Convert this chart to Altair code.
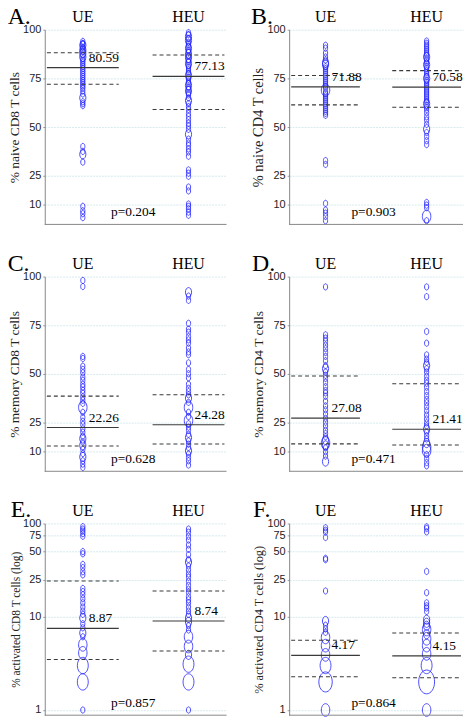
import altair as alt
import pandas as pd

GROUPS = ["UE", "HEU"]

# ---------------- data ----------------
# Panel A: % naive CD8 T cells
a_ue = [94, 93, 92.5, 92, 91, 90, 89.5, 89, 88, 87, 86, 85, 84, 83, 82, 81, 80, 79, 78, 77, 76, 75, 74, 73, 72,
        71, 70, 68.5, 67, 65, 63, 62, 61, 40, 37.5, 36, 32, 9.3, 7, 5.5, 3.5]
a_ue_n = [1, 1, 1, 2, 1, 1, 2, 1, 2, 1, 2, 1, 1, 1, 1, 1, 1, 1, 1, 1, 1, 1, 1, 1, 1,
          1, 1, 1, 1, 2, 1, 1, 1, 1, 1, 2, 1, 1, 1, 1, 1]
a_heu = [98.5, 97.5, 96.5, 95.5, 94.5, 93.5, 92.5, 91.5, 90.5, 89.5, 88.5, 87.5, 86.5, 85.5, 84.5, 83.5, 82.5,
         81.5, 80.5, 79.5, 78.5, 77.5, 76.5, 75.5, 74.5, 73.5, 72.5, 71.5, 70.5, 69.5, 68.5, 67.5, 66.5, 65,
         63.5, 62, 60.5, 59, 57, 55.5, 53.8, 52, 50.5, 48.8, 46.3, 43.8, 41.8, 40.5, 38.8, 37.2, 35, 28, 26.3,
         24.7, 19.2, 17.2, 10.5, 9.3, 8, 6.3, 4.7]
a_heu_n = [1, 1, 2, 1, 2, 1, 1, 1, 2, 1, 1, 2, 1, 2, 1, 1, 2,
           1, 1, 1, 1, 1, 2, 1, 1, 1, 1, 2, 1, 1, 2, 1, 1, 1,
           2, 1, 1, 1, 1, 1, 1, 1, 1, 1, 2, 1, 1, 1, 1, 1, 1, 1, 1,
           1, 1, 1, 1, 1, 1, 1, 1]
a_med = [80.5, 76.0]
a_lbl = ["80.59", "77.13"]
a_q1 = [72.0, 59.0]
a_q3 = [88.2, 87.0]

# Panel B: % naive CD4 T cells
b_ue = [92, 90.5, 88, 86, 84.5, 83, 82, 81, 80, 79, 78, 77, 76, 75, 74, 73, 72, 71, 70, 69, 68, 67, 66, 65, 64,
        63, 62, 61, 60, 59, 58, 57, 56, 32.8, 30.8, 10.8, 7.4, 5.8, 4.1, 1.9]
b_ue_n = [1, 1, 1, 1, 1, 2, 2, 1, 1, 1, 1, 1, 1, 1, 1, 1, 1, 1, 1, 3, 1, 1, 1, 1, 1,
          1, 1, 1, 1, 1, 1, 1, 1, 1, 1, 1, 1, 1, 1, 1]
b_heu = [94.2, 93, 92, 91, 90, 89, 88, 87, 86, 85, 84, 83, 82, 81, 80, 79, 78, 77, 76, 75, 74, 73, 72, 71, 70,
         69, 68, 67, 66, 65, 64, 63, 62, 61, 60, 59, 57.4, 55.3, 53.6, 51.4, 48.9, 47.2, 45.2, 43, 41, 11.3,
         9.9, 8.6, 4.1, 1.9]
b_heu_n = [1, 1, 1, 1, 1, 1, 1, 1, 2, 1, 1, 1, 2, 1, 1, 1, 1, 1, 1, 2, 1, 1, 1, 1, 1,
           1, 1, 1, 1, 1, 1, 1, 2, 1, 1, 1, 1, 1, 1, 1, 2, 1, 1, 1, 1, 1,
           1, 1, 3, 1]
b_med = [70.6, 70.5]
b_lbl = ["71.88", "70.58"]
b_q1 = [61.4, 60.2]
b_q3 = [76.5, 79.0]

# Panel C: % memory CD8 T cells
c_ue = [98, 94.9, 59, 57.9, 54, 52.3, 50.6, 48.4, 46.7, 44.7, 43.3, 41.6, 40.1, 38.2, 36.5, 34.9, 32.8, 30.3,
        27.7, 25.7, 24, 21.8, 20.1, 18.1, 16.8, 15.1, 13.4, 11.3, 9.1, 7.4, 5.4, 3.7, 2]
c_ue_n = [1, 1, 1, 1, 1, 1, 1, 1, 1, 1, 1, 1, 1, 1, 1, 1, 3, 1,
          1, 1, 1, 1, 1, 1, 2, 1, 2, 1, 1, 2, 1, 1, 1]
c_heu = [92, 90, 87.8, 76, 73, 71.4, 69.2, 67.5, 65.8, 63.3, 61.3, 59.9, 55.7, 52.3, 50.1, 48, 44.7, 42.6, 40.9,
         39.3, 37.6, 35.4, 32.8, 30.3, 28.1, 26, 24.4, 22.7, 21, 19, 17.3, 15.6, 13.9, 12.2, 10.5, 8.8, 7.1,
         5.4, 3.2]
c_heu_n = [2, 1, 1, 1, 1, 1, 1, 1, 1, 1, 1, 1, 1, 1, 1, 1, 1, 1, 1,
           1, 2, 1, 3, 1, 1, 3, 1, 1, 1, 1, 2, 1, 1, 1, 2, 1, 1,
           1, 1]
c_med = [22.5, 23.9]
c_lbl = ["22.26", "24.28"]
c_q1 = [13.0, 14.0]
c_q3 = [38.6, 39.3]

# Panel D: % memory CD4 T cells
d_ue = [94.7, 70.1, 68.4, 66.8, 64.8, 63, 61, 59, 56.8, 54.3, 52.7, 51, 49.3, 47.7, 45.7, 43.5, 41.5, 40.2,
        38.5, 36, 33.6, 31.6, 29.4, 27.2, 25.2, 23.3, 21.1, 19.4, 17.8, 16.1, 14.5, 13.3, 12, 10, 7.8, 5]
d_ue_n = [1, 1, 1, 1, 1, 1, 1, 1, 1, 1, 2, 1, 1, 1, 1, 1, 1, 1,
          1, 1, 1, 1, 1, 1, 1, 1, 1, 1, 1, 2, 3, 2, 1, 1, 1, 2]
d_heu = [94.7, 89.7, 71.8, 65.8, 59.8, 57.6, 56, 54.3, 52.7, 51, 48.8, 46.8, 45.2, 43.2, 41, 38.9, 36.9, 35.2,
         33.2, 31.1, 28.9, 26.9, 24.9, 23.3, 21.6, 20, 18.3, 16.6, 14.5, 12.5, 10.6, 8.6, 6.6, 4.5, 2.8]
d_heu_n = [1, 1, 1, 1, 1, 1, 1, 2, 1, 1, 1, 1, 1, 1, 1, 1, 1, 1,
           1, 1, 1, 1, 1, 1, 2, 1, 1, 1, 2, 3, 3, 1, 1, 1, 1]
d_med = [27.3, 21.6]
d_lbl = ["27.08", "21.41"]
d_q1 = [14.1, 13.5]
d_q3 = [48.9, 45.0]

# Panel E: % activated CD8 T cells (log)
e_ue = [92.4, 87.1, 82.7, 77.8, 72.9, 50, 47.3, 36.4, 33.6, 30.4, 28.1, 20.1, 18.6, 17.2, 15.6, 14.1, 12.7,
        11.5, 10.6, 9.7, 8.4, 7.6, 6.7, 6.1, 5.0, 4.1, 3.0, 2.0, 1.0]
e_ue_n = [1, 1, 1, 1, 1, 1, 1, 1, 1, 1, 1, 1, 1, 1, 1, 1, 1,
          1, 1, 2, 1, 1, 2, 1, 3, 3, 4, 4, 1]
e_heu = [87.1, 80.5, 72.9, 66.3, 58.8, 52.8, 46.3, 41.1, 38.6, 35, 31.8, 28.7, 26.5, 24, 21.7, 19.8, 18.3,
         16.4, 15.2, 14.1, 12.7, 11.5, 10.6, 9.7, 8.8, 8.0, 7.2, 6.1, 4.8, 3.9, 3.1, 2.0, 1.0]
e_heu_n = [1, 1, 1, 1, 1, 1, 1, 1, 2, 1, 1, 1, 1, 1, 1, 1, 1,
           1, 1, 1, 1, 1, 1, 2, 2, 1, 1, 3, 3, 2, 4, 4, 1]
e_med = [7.5, 9.0]
e_lbl = ["8.87", "8.74"]
e_q1 = [3.48, 4.3]
e_q3 = [24.2, 18.9]

# Panel F: % activated CD4 T cells (log)
f_ue = [90, 84.6, 80.7, 70.7, 42.3, 40.9, 18.9, 9.0, 8.1, 7.4, 6.8, 6.0, 4.9, 3.9, 3.0, 2.0, 1.0]
f_ue_n = [1, 1, 1, 1, 1, 1, 1, 2, 1, 1, 1, 3, 3, 3, 4, 5, 3]
f_heu = [92.1, 88.4, 81.2, 30.6, 18.1, 14.1, 13.1, 12.4, 11.4, 9.3, 8.6, 8.0, 7.3, 6.5, 5.8, 4.9, 4.0, 3.0,
         2.0, 1.0]
f_heu_n = [1, 1, 1, 1, 1, 1, 1, 1, 1, 2, 2, 2, 3, 2, 3, 3, 3, 4, 6, 3]
f_med = [3.86, 3.8]
f_lbl = ["4.17", "4.15"]
f_q1 = [2.27, 2.22]
f_q3 = [5.6, 6.7]

letters = ["A.", "B.", "C.", "D.", "E.", "F."]
ytitles = ["% naive CD8 T cells", "% naive CD4 T cells", "% memory CD8 T cells",
           "% memory CD4 T cells", "% activated CD8 T cells (log)", "% activated CD4 T cells (log)"]
pvals = ["p=0.204", "p=0.903", "p=0.628", "p=0.471", "p=0.857", "p=0.864"]

# ---------------- styling ----------------
SERIF = "Liberation Serif"
SANS = "Liberation Sans"
BLUE = "#2323ff"
LINE = "#3a3a3a"
ELLIPSE = "M -1 0 A 1 1.5 0 1 1 1 0 A 1 1.5 0 1 1 -1 0 Z"
HLIN = 196
HLOG = 193


def panel(letter, ytitle, tsize, ue, ue_n, heu, heu_n, med, lbl, q1, q3, ptxt, log, w):
    pts = pd.DataFrame({
        "group": ["UE"] * len(ue) + ["HEU"] * len(heu),
        "value": ue + heu,
        "n": ue_n + heu_n,
    })
    summ = pd.DataFrame({"group": GROUPS, "med": med, "lbl": lbl, "q1": q1, "q3": q3})
    if log:
        ymin = 0.88
        yscale = alt.Scale(type="log", domain=[ymin, 100], nice=False)
        vals = [1, 10, 25, 50, 75, 100]
        h = HLOG
    else:
        ymin = 0
        yscale = alt.Scale(domain=[ymin, 100], nice=False, zero=False)
        vals = [10, 25, 50, 75, 100]
        h = HLIN
    xscale = alt.Scale(type="band", domain=GROUPS, paddingInner=0.32, paddingOuter=0.02)
    yaxis = alt.Axis(values=vals, title=ytitle, titleFont=SERIF, titleFontSize=tsize,
                     titleFontWeight="normal", titleColor="#222", titlePadding=1,
                     labelFont=SANS, labelFontSize=11, labelColor="#222", labelPadding=2,
                     tickSize=2, tickColor="#999", domainColor="#888", domainWidth=1,
                     grid=True, gridColor="#d6eaee", gridDash=[2, 1], gridWidth=1)

    def yenc(field):
        return alt.Y(field, scale=yscale, axis=yaxis)

    xtop = alt.X("group:N", scale=xscale, sort=GROUPS,
                 axis=alt.Axis(orient="top", title=None, labelFont=SERIF, labelFontSize=16,
                               labelColor="black", ticks=False, tickSize=0, domain=False,
                               grid=False, labelPadding=5, labelAngle=0))

    # bottom axis line, placed at the lower end of the y scale
    baseline = alt.Chart(pd.DataFrame({"b": [0]})).mark_rule(color="#888", strokeWidth=1).encode(
        y=alt.YDatum(ymin, scale=yscale, axis=yaxis))

    points = alt.Chart(pts).mark_point(shape=ELLIPSE, filled=False, color=BLUE,
                                       strokeWidth=0.9, opacity=0.9).encode(
        x=xtop,
        y=yenc("value:Q"),
        size=alt.Size("n:Q", scale=alt.Scale(type="pow", exponent=2, domain=[1, 6],
                                             range=[18, 256]), legend=None),
    )
    base = alt.Chart(summ)
    xs = alt.X("group:N", scale=xscale, sort=GROUPS, bandPosition=0)
    x2 = alt.X2("group", bandPosition=1)
    med_rule = base.mark_rule(color=LINE, strokeWidth=1.2).encode(x=xs, x2=x2, y=yenc("med:Q"))
    q1_rule = base.mark_rule(color=LINE, strokeWidth=1.1, strokeDash=[4, 3]).encode(
        x=xs, x2=x2, y=yenc("q1:Q"))
    q3_rule = base.mark_rule(color=LINE, strokeWidth=1.1, strokeDash=[4, 3]).encode(
        x=xs, x2=x2, y=yenc("q3:Q"))
    labels = base.mark_text(align="left", baseline="bottom", dx=6, dy=-3, font=SERIF,
                            fontSize=13.5, color="black").encode(
        x=alt.X("group:N", scale=xscale, sort=GROUPS),
        y=yenc("med:Q"), text="lbl:N")
    ptext = alt.Chart(pd.DataFrame({"t": [ptxt]})).mark_text(
        font=SERIF, fontSize=13.5, baseline="bottom", align="center", color="black").encode(
        x=alt.value(round(w * 0.487)), y=alt.value(h - 5), text="t:N")

    return alt.layer(points, baseline, med_rule, q1_rule, q3_rule, labels, ptext).properties(
        width=w, height=h,
        title=alt.TitleParams(letter, anchor="start", frame="bounds", font=SERIF, fontSize=24,
                              fontWeight="normal", color="black", dx=0, dy=20, offset=0))


WL, WR = 183, 175
panels = [
    panel(letters[0], ytitles[0], 13.5, a_ue, a_ue_n, a_heu, a_heu_n, a_med, a_lbl, a_q1, a_q3, pvals[0], False, WL),
    panel(letters[1], ytitles[1], 14.5, b_ue, b_ue_n, b_heu, b_heu_n, b_med, b_lbl, b_q1, b_q3, pvals[1], False, WR),
    panel(letters[2], ytitles[2], 13.5, c_ue, c_ue_n, c_heu, c_heu_n, c_med, c_lbl, c_q1, c_q3, pvals[2], False, WL),
    panel(letters[3], ytitles[3], 13.5, d_ue, d_ue_n, d_heu, d_heu_n, d_med, d_lbl, d_q1, d_q3, pvals[3], False, WR),
    panel(letters[4], ytitles[4], 11.5, e_ue, e_ue_n, e_heu, e_heu_n, e_med, e_lbl, e_q1, e_q3, pvals[4], True, WL),
    panel(letters[5], ytitles[5], 12.5, f_ue, f_ue_n, f_heu, f_heu_n, f_med, f_lbl, f_q1, f_q3, pvals[5], True, WR),
]

chart = alt.concat(*panels, columns=2, spacing={"row": 25.5, "column": 23}).properties(
    padding={"left": -1, "top": -5.5, "right": 0, "bottom": 0}, background="white"
).configure_view(stroke=None)

chart.save("out.html", embed_options={"renderer": "svg", "actions": False})
